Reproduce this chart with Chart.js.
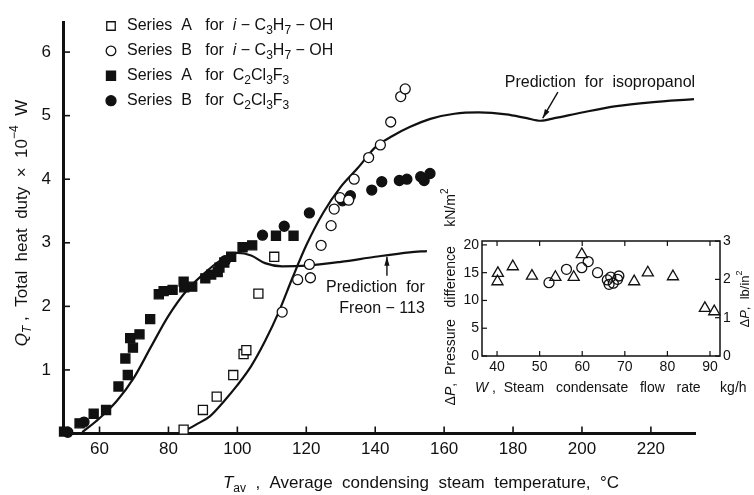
<!DOCTYPE html>
<html>
<head>
<meta charset="utf-8">
<script src="https://cdn.jsdelivr.net/npm/chart.js@4/dist/chart.umd.min.js"></script>
<style>
  html, body { margin: 0; padding: 0; background: #fff; }
  #wrap { position: relative; width: 754px; height: 495px; }
  #wrap canvas { position: absolute; left: 0; top: 0; }
</style>
</head>
<body>
<div id="wrap">
  <canvas id="main" width="754" height="495"></canvas>
  <canvas id="inset" width="754" height="495"></canvas>
</div>
<script>
// main plot: total heat duty Q_T (x 10^4 W) vs average condensing steam temperature (°C)
const xTicks = [60, 80, 100, 120, 140, 160, 180, 200, 220]
const yTicks = [1, 2, 3, 4, 5, 6]

const isoA_T = [84.4, 90.0, 94.0, 98.8, 101.8, 102.6, 106.1, 110.7]
const isoA_Q = [0.06, 0.37, 0.58, 0.92, 1.25, 1.31, 2.20, 2.78]
const isoB_T = [113.0, 117.5, 121.2, 120.9, 124.3, 127.2, 128.1, 129.8, 132.3, 133.9, 138.1, 141.5, 144.5, 147.4, 148.7]
const isoB_Q = [1.91, 2.42, 2.45, 2.66, 2.96, 3.27, 3.53, 3.71, 3.67, 4.00, 4.34, 4.54, 4.90, 5.30, 5.42]
const freA_T = [49.7, 54.2, 58.3, 61.9, 65.5, 68.2, 67.5, 69.7, 68.9, 71.6, 74.7, 77.2, 78.6, 81.2, 84.4, 84.6, 86.9,
                90.7, 92.4, 94.3, 94.8, 96.2, 98.2, 101.5, 104.3, 111.2, 116.3]
const freA_Q = [0.03, 0.16, 0.31, 0.37, 0.74, 0.92, 1.18, 1.35, 1.50, 1.56, 1.80, 2.19, 2.24, 2.26, 2.39, 2.30, 2.31,
                2.44, 2.50, 2.54, 2.61, 2.69, 2.78, 2.93, 2.96, 3.11, 3.11]
const freB_T = [50.8, 55.5, 96.5, 107.3, 113.6, 120.9, 130.5, 132.8, 139.0, 141.9, 147.0, 149.2, 153.2, 154.2, 155.9]
const freB_Q = [0.02, 0.18, 2.72, 3.12, 3.26, 3.47, 3.66, 3.74, 3.83, 3.96, 3.98, 4.00, 4.04, 3.98, 4.09]

// predicted curves
const predFreon_T = [55, 60, 65, 70, 75, 80, 85, 90, 95, 100, 104, 108, 113, 120, 130, 140, 150, 155]
const predFreon_Q = [0.02, 0.24, 0.51, 0.88, 1.37, 1.85, 2.23, 2.50, 2.72, 2.84, 2.80, 2.68, 2.63, 2.64, 2.70, 2.78, 2.85, 2.87]
const predIso_T = [84, 88, 92, 96, 100, 104, 108, 112, 116, 120, 125, 130, 135, 140, 145, 150, 156, 163, 170, 178,
                   184, 188, 192, 200, 210, 220, 232.5]
const predIso_Q = [0.02, 0.14, 0.27, 0.50, 0.76, 1.06, 1.45, 1.91, 2.45, 2.96, 3.48, 3.88, 4.18, 4.50, 4.68, 4.82, 4.95,
                   5.03, 5.05, 5.02, 4.96, 4.92, 4.96, 5.05, 5.15, 5.21, 5.26]

// inset: pressure difference (kN/m2) vs steam condensate flow rate (kg/h)
const wTicks = [40, 50, 60, 70, 80, 90]
const dpTicks = [0, 5, 10, 15, 20]
const psiTicks = [0, 1, 2, 3]
const dpTri_W = [40.2, 40.1, 43.7, 48.2, 53.7, 58.0, 59.9, 72.2, 75.4, 81.3, 88.8, 91.0]
const dpTri_P = [14.9, 13.4, 16.1, 14.4, 14.2, 14.2, 18.3, 13.4, 15.0, 14.3, 8.6, 8.0]
const dpCir_W = [52.2, 56.3, 59.9, 61.4, 63.6, 65.9, 66.3, 66.7, 67.3, 68.3, 68.6]
const dpCir_P = [13.2, 15.6, 15.9, 17.0, 15.0, 13.7, 12.9, 14.2, 13.1, 13.8, 14.4]

const FONT = '"Liberation Sans", Arial, sans-serif'
const INK = '#111'
const KPA_PER_PSI = 6.89476

function pts(xs, ys, style, fill, r) {
  return {
    data: xs.map((v, i) => ({ x: v, y: ys[i] })),
    showLine: false, pointStyle: style, pointRadius: r,
    pointBackgroundColor: fill, pointBorderColor: INK, pointBorderWidth: 1.3, clip: 8,
  }
}

function curve(xs, ys) {
  return {
    data: xs.map((v, i) => ({ x: v, y: ys[i] })),
    showLine: true, pointRadius: 0, borderColor: INK, borderWidth: 2.2,
    cubicInterpolationMode: 'monotone', fill: false,
  }
}

// text with italic / sub / sup runs
function rich(ctx, parts, x, y, size, align = 'left') {
  const runs = parts.map(p => {
    const s = p.sub || p.sup ? Math.round(size * 0.72) : size
    const font = (p.it ? 'italic ' : '') + s + 'px ' + FONT
    ctx.font = font
    return { ...p, font, w: ctx.measureText(p.t).width }
  })
  const total = runs.reduce((a, r) => a + r.w, 0)
  let cx = align === 'center' ? x - total / 2 : align === 'right' ? x - total : x
  ctx.textAlign = 'left'
  ctx.textBaseline = 'middle'
  runs.forEach(r => {
    ctx.font = r.font
    const dy = r.sub ? size * 0.32 : r.sup ? -size * 0.42 : 0
    ctx.fillText(r.t, cx, y + dy)
    cx += r.w
  })
}

function richUp(ctx, parts, x, y, size) {
  ctx.save()
  ctx.translate(x, y)
  ctx.rotate(-Math.PI / 2)
  rich(ctx, parts, 0, 0, size, 'center')
  ctx.restore()
}

function seg(ctx, x1, y1, x2, y2) {
  ctx.beginPath(); ctx.moveTo(x1, y1); ctx.lineTo(x2, y2); ctx.stroke()
}

function arrow(ctx, x1, y1, x2, y2) {
  seg(ctx, x1, y1, x2, y2)
  const a = Math.atan2(y2 - y1, x2 - x1), L = 9, W = 2.6
  ctx.beginPath()
  ctx.moveTo(x2, y2)
  ctx.lineTo(x2 - L * Math.cos(a) + W * Math.sin(a), y2 - L * Math.sin(a) - W * Math.cos(a))
  ctx.lineTo(x2 - L * Math.cos(a) - W * Math.sin(a), y2 - L * Math.sin(a) + W * Math.cos(a))
  ctx.closePath()
  ctx.fill()
}

const sub = t => ({ t, sub: true })
const sup = t => ({ t, sup: true })

const legendRows = [
  { style: 'rect', r: 6, fill: '#fff', text: [{ t: 'Series  A   for  ' }, { t: 'i', it: true }, { t: ' − C' }, sub('3'), { t: 'H' }, sub('7'), { t: ' − OH' }] },
  { style: 'circle', r: 4.8, fill: '#fff', text: [{ t: 'Series  B   for  ' }, { t: 'i', it: true }, { t: ' − C' }, sub('3'), { t: 'H' }, sub('7'), { t: ' − OH' }] },
  { style: 'rect', r: 6.4, fill: INK, text: [{ t: 'Series  A   for  C' }, sub('2'), { t: 'Cl' }, sub('3'), { t: 'F' }, sub('3')] },
  { style: 'circle', r: 5, fill: INK, text: [{ t: 'Series  B   for  C' }, sub('2'), { t: 'Cl' }, sub('3'), { t: 'F' }, sub('3')] },
]

const mainDecor = {
  id: 'mainDecor',
  afterDraw(chart) {
    const { ctx, scales: { x, y } } = chart
    ctx.save()
    ctx.strokeStyle = INK
    ctx.fillStyle = INK
    ctx.lineWidth = 1.6
    // inward tick marks
    xTicks.forEach(v => { const px = x.getPixelForValue(v); seg(ctx, px, y.bottom, px, y.bottom - 7) })
    yTicks.forEach(v => { const py = y.getPixelForValue(v); seg(ctx, x.left, py, x.left + 7, py) })

    // legend, top-left inside the plot
    legendRows.forEach((row, i) => {
      const ly = 26 + i * 24.9
      ctx.fillStyle = row.fill
      ctx.lineWidth = 1.3
      Chart.helpers.drawPoint(ctx, { pointStyle: row.style, radius: row.r, borderWidth: 1.3, rotation: 0 }, 111, ly)
      ctx.fillStyle = INK
      rich(ctx, row.text, 127, ly, 16)
    })

    // axis titles
    rich(ctx, [{ t: 'T', it: true }, sub('av'), { t: '  ,  Average  condensing  steam  temperature,  °C' }], 421, 483, 17, 'center')
    richUp(ctx, [{ t: 'Q', it: true }, { t: 'T', sub: true, it: true }, { t: ' ,  Total  heat  duty  ×  10' }, sup('−4'), { t: '  W' }], 22, 223, 17)

    // annotations for the two prediction curves
    ctx.lineWidth = 1.4
    rich(ctx, [{ t: 'Prediction  for  isopropanol' }], x.getPixelForValue(177.6), y.getPixelForValue(5.52), 16)
    arrow(ctx, x.getPixelForValue(193.0), y.getPixelForValue(5.37), x.getPixelForValue(188.6), y.getPixelForValue(4.96))
    rich(ctx, [{ t: 'Prediction  for' }], x.getPixelForValue(154.4), y.getPixelForValue(2.30), 16, 'right')
    rich(ctx, [{ t: 'Freon − 113' }], x.getPixelForValue(154.4), y.getPixelForValue(1.96), 16, 'right')
    arrow(ctx, x.getPixelForValue(143.4), y.getPixelForValue(2.48), x.getPixelForValue(143.4), y.getPixelForValue(2.78))
    ctx.restore()
  },
}

new Chart(document.getElementById('main'), {
  type: 'scatter',
  data: {
    datasets: [
      pts(isoA_T, isoA_Q, 'rect', '#fff', 6.4),
      pts(isoB_T, isoB_Q, 'circle', '#fff', 5),
      pts(freA_T, freA_Q, 'rect', INK, 6.4),
      pts(freB_T, freB_Q, 'circle', INK, 5),
      curve(predFreon_T, predFreon_Q),
      curve(predIso_T, predIso_Q),
    ],
  },
  options: {
    responsive: false, animation: false, events: [],
    layout: { padding: { left: 0, top: 10, right: 59, bottom: 0 } },
    plugins: { legend: { display: false }, tooltip: { enabled: false } },
    scales: {
      x: {
        type: 'linear', min: 49.4, max: 232.8,
        grid: { display: false, drawTicks: false },
        border: { display: true, width: 3, color: INK },
        afterBuildTicks: s => { s.ticks = xTicks.map(value => ({ value })) },
        afterFit: s => { s.height = 61.5 },
        ticks: { color: INK, font: { family: FONT, size: 17 }, padding: 6, maxRotation: 0, autoSkip: false },
      },
      y: {
        type: 'linear', min: 0, max: 6.47,
        grid: { display: false, drawTicks: false },
        border: { display: true, width: 3, color: INK },
        afterBuildTicks: s => { s.ticks = yTicks.map(value => ({ value })) },
        afterFit: s => { s.width = 63 },
        ticks: { color: INK, font: { family: FONT, size: 17 }, padding: 12 },
      },
    },
  },
  plugins: [mainDecor],
})

const insetDecor = {
  id: 'insetDecor',
  afterDraw(chart) {
    const { ctx, chartArea: a, scales: { x, y, y2 } } = chart
    ctx.save()
    ctx.strokeStyle = INK
    ctx.fillStyle = INK
    ctx.lineWidth = 1.5
    ctx.strokeRect(a.left, a.top, a.right - a.left, a.bottom - a.top)
    ctx.lineWidth = 1.2
    wTicks.forEach(v => {
      const px = x.getPixelForValue(v)
      seg(ctx, px, a.bottom, px, a.bottom - 5)
      seg(ctx, px, a.top, px, a.top + 5)
    })
    dpTicks.forEach(v => { const py = y.getPixelForValue(v); seg(ctx, a.left, py, a.left + 5, py) })
    psiTicks.forEach(v => { const py = y2.getPixelForValue(v); seg(ctx, a.right, py, a.right - 5, py) })

    rich(ctx, [{ t: 'W', it: true }, { t: ' ,  Steam   condensate   flow   rate     kg/h' }], 475, 388, 14)
    richUp(ctx, [{ t: 'Δ' }, { t: 'P', it: true }, { t: ',  Pressure   difference     kN/m' }, sup('2')], 451, 297, 14)
    richUp(ctx, [{ t: 'Δ' }, { t: 'P', it: true }, { t: ',  lb/in' }, sup('2')], 745, 299, 13)
    ctx.restore()
  },
}

new Chart(document.getElementById('inset'), {
  type: 'scatter',
  data: {
    datasets: [
      pts(dpTri_W, dpTri_P, 'triangle', 'rgba(0,0,0,0)', 6.4),
      pts(dpCir_W, dpCir_P, 'circle', 'rgba(0,0,0,0)', 5),
    ],
  },
  options: {
    responsive: false, animation: false, events: [],
    layout: { padding: { left: 452, top: 241, right: 10, bottom: 119 } },
    plugins: { legend: { display: false }, tooltip: { enabled: false } },
    scales: {
      x: {
        type: 'linear', min: 36.47, max: 92.35,
        grid: { display: false, drawTicks: false }, border: { display: false },
        afterBuildTicks: s => { s.ticks = wTicks.map(value => ({ value })) },
        afterFit: s => { s.height = 20 },
        ticks: { color: INK, font: { family: FONT, size: 14 }, padding: 3, maxRotation: 0, autoSkip: false },
      },
      y: {
        type: 'linear', min: 0, max: 20.7,
        grid: { display: false, drawTicks: false }, border: { display: false },
        afterBuildTicks: s => { s.ticks = dpTicks.map(value => ({ value })) },
        afterFit: s => { s.width = 30 },
        ticks: { color: INK, font: { family: FONT, size: 14 }, padding: 3 },
      },
      y2: {
        type: 'linear', position: 'right', min: 0, max: 20.7 / KPA_PER_PSI,
        grid: { display: false, drawTicks: false }, border: { display: false },
        afterBuildTicks: s => { s.ticks = psiTicks.map(value => ({ value })) },
        afterFit: s => { s.width = 24 },
        ticks: { color: INK, font: { family: FONT, size: 14 }, padding: 3 },
      },
    },
  },
  plugins: [insetDecor],
})
</script>
</body>
</html>
